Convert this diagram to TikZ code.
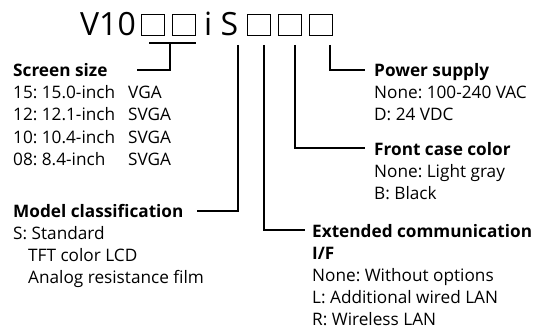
\documentclass[tikz,border=0pt]{standalone}
\usepackage{fontspec}
\setmainfont{Open Sans}
\begin{document}
\frenchspacing
\begin{tikzpicture}[x=1pt,y=-1pt,
  txt/.style={anchor=base west, inner sep=0pt, font=\fontsize{17.2}{17.2}\selectfont},
  hd/.style={anchor=base west, inner sep=0pt, font=\fontsize{17.2}{17.2}\selectfont\bfseries},
  big/.style={anchor=base west, inner sep=0pt, font=\fontsize{32}{32}\selectfont},
  ln/.style={line width=1.3pt},
  bx/.style={draw, line width=0.8pt, minimum width=23pt, minimum height=21pt, inner sep=0pt, anchor=north west}]
\useasboundingbox (0,0) rectangle (547,329);
% title
\node[big] (v10) at (80,36) {V10};
\node[bx] (b1) at (141,14) {};
\node[bx] (b2) at (172,14) {};
\node[big] (is) at (204,36) {i S};
\node[bx] (b3) at (247,14) {};
\node[bx] (b4) at (278,14) {};
\node[bx] (b5) at (309,14) {};
% connector points
\coordinate (brL) at (149,43);
\coordinate (brR) at (196,43);
\coordinate (brM) at (170,43);
\coordinate (ssE) at (137,70);
\coordinate (mS) at (238,45);
\coordinate (mE) at (197,211);
\coordinate (eS) at (264,45);
\coordinate (eE) at (305,230);
\coordinate (fS) at (295,45);
\coordinate (fE) at (365,148);
\coordinate (pS) at (330,45);
\coordinate (pE) at (365,70);
\draw[ln] (brL) -- (brR);
\draw[ln] (brM) |- (ssE);
\draw[ln] (mS) |- (mE);
\draw[ln] (eS) |- (eE);
\draw[ln] (fS) |- (fE);
\draw[ln] (pS) |- (pE);
% screen size
\node[hd] (ss) at (13,77) {Screen size};
\node[txt] (s1) at (13,99) {15: 15.0-inch};
\node[txt] (s1b) at (128,99) {VGA};
\node[txt] (s2) at (13,121) {12: 12.1-inch};
\node[txt] (s2b) at (128,121) {SVGA};
\node[txt] (s3) at (13,143) {10: 10.4-inch};
\node[txt] (s3b) at (128,143) {SVGA};
\node[txt] (s4) at (13,165) {08: 8.4-inch};
\node[txt] (s4b) at (128,165) {SVGA};
% model
\node[hd] (mc) at (13,217) {Model classification};
\node[txt] (m1) at (13,239) {S: Standard};
\node[txt] (m2) at (28,261) {TFT color LCD};
\node[txt] (m3) at (28,283) {Analog resistance film};
% power
\node[hd] (ps) at (374,77) {Power supply};
\node[txt] (p1) at (374,99) {None: 100-240 VAC};
\node[txt] (p2) at (374,121) {D: 24 VDC};
% front
\node[hd] (fc) at (374,155) {Front case color};
\node[txt] (f1) at (374,177) {None: Light gray};
\node[txt] (f2) at (374,199) {B: Black};
% extended
\node[hd] (ec) at (312,237) {Extended communication};
\node[hd] (ec2) at (312,259) {I/F};
\node[txt] (e1) at (312,281) {None: Without options};
\node[txt] (e2) at (312,303) {L: Additional wired LAN};
\node[txt] (e3) at (312,325) {R: Wireless LAN};
\end{tikzpicture}
\end{document}
